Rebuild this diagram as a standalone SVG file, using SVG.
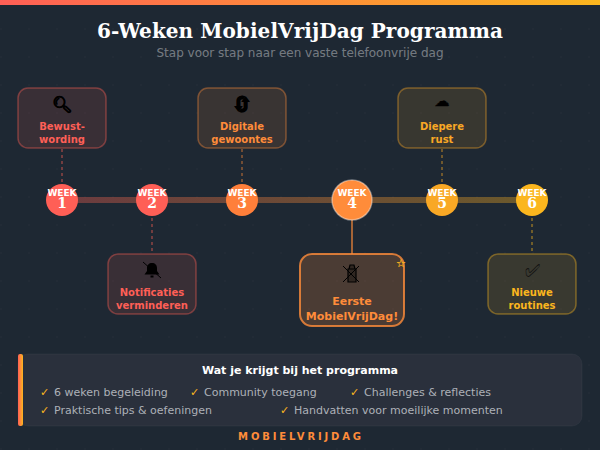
<svg xmlns="http://www.w3.org/2000/svg" width="600" height="450" viewBox="0 0 600 450">
<defs>
<linearGradient id="g" x1="0" y1="0" x2="1" y2="0"><stop offset="0" stop-color="#ff5f56"/><stop offset="0.5" stop-color="#ff8c3a"/><stop offset="1" stop-color="#fbb61e"/></linearGradient>
<linearGradient id="gl" gradientUnits="userSpaceOnUse" x1="61" y1="0" x2="532" y2="0"><stop offset="0" stop-color="#ff5f56"/><stop offset="0.5" stop-color="#ff8c3a"/><stop offset="1" stop-color="#fbb61e"/></linearGradient>
<pattern id="dots" width="28" height="28" patternUnits="userSpaceOnUse"><circle cx="1" cy="1" r="1" fill="#fff" fill-opacity="0.02"/></pattern>
</defs>
<style>
text{font-family:"DejaVu Sans",sans-serif;text-anchor:middle}
.n{fill:#fff;font-size:9px;font-weight:700}
.d{fill:#fff;font-size:14px;font-weight:700;font-family:"DejaVu Serif",serif}
.i{font-size:16px;font-weight:700;fill:#000;stroke:#000;stroke-width:.4}
.l{font-size:10px;font-weight:700}
.f{font-size:11px;fill:#adb1b8;text-anchor:start}
.k{font-size:11px;fill:#fbb61e;text-anchor:start}
.r{fill:#ff5f56}.o{fill:#ff8c3a}.y{fill:#f9a825}.u{fill:#fbb61e}
.card{fill-opacity:.12;stroke-opacity:.4;stroke-width:1.5}
</style>
<rect width="600" height="450" fill="#1e2833"/>
<rect width="600" height="450" fill="url(#dots)"/>
<rect width="600" height="5" fill="url(#g)"/>
<text x="300" y="38" font-size="20" font-weight="700" letter-spacing=".07" style="font-family:'DejaVu Serif',serif" fill="#fff">6-Weken MobielVrijDag Programma</text>
<text x="300" y="57" font-size="12" fill="#fff" fill-opacity="0.4">Stap voor stap naar een vaste telefoonvrije dag</text>
<g id="connectors">
<rect x="61" y="197" width="471" height="6" fill="url(#gl)" fill-opacity="0.35"/>
<g fill="none" stroke-width="1.5" stroke-dasharray="3 3" stroke-opacity="0.5">
<path d="M62 149V182" stroke="#ff5f56"/>
<path d="M152 218V254" stroke="#ff5f56"/>
<path d="M242 149V182" stroke="#ff8c3a"/>
<path d="M442 149V182" stroke="#f9a825"/>
<path d="M532 218V254" stroke="#fbb61e"/>
</g>
<path d="M352 220V254" stroke="#ff8c3a" stroke-width="1.5" stroke-opacity="0.8"/>
</g>
<g id="card1"><rect class="card" x="18" y="88" width="88" height="60" rx="10" fill="#ff5f56" stroke="#ff5f56"/><text class="i" x="62" y="110">🔍︎</text><text class="l r" x="62" y="130">Bewust-</text><text class="l r" x="62" y="143">wording</text></g>
<g id="card2"><rect class="card" x="108" y="254" width="88" height="60" rx="10" fill="#ff5f56" stroke="#ff5f56"/><path d="M152 263c-3 0-5 2-5 5v3l-2.500 3.500h15l-2.500-3.500v-3c0-3-2-5-5-5zM150.500 275.500h3v2h-3z" fill="#000"/><path d="M143 262L161 278" stroke="#000" stroke-width="1"/><text class="l r" x="152" y="296">Notificaties</text><text class="l r" x="152" y="309">verminderen</text></g>
<g id="card3"><rect class="card" x="198" y="88" width="88" height="60" rx="10" fill="#ff8c3a" stroke="#ff8c3a"/><text class="i" x="242" y="111" style="font-size:18px">🔄︎</text><text class="l o" x="242" y="130">Digitale</text><text class="l o" x="242" y="143">gewoontes</text></g>
<g id="card4"><rect x="300" y="254" width="104" height="72" rx="12" fill="#ff8c3a" fill-opacity=".2" stroke="#ff8c3a" stroke-opacity=".8" stroke-width="2"/><path d="M348 269h8v13h-8zM350 265h4l1 4h-6z" fill="#000" fill-opacity=".35" stroke="#000" stroke-width="1.200"/><path d="M343 266L359 282M359 266L343 282" stroke="#000" stroke-width="1"/><text class="l o" x="352" y="305" style="font-size:11px">Eerste</text><text class="l o" x="352" y="320" style="font-size:11px">MobielVrijDag!</text><text x="401" y="267" font-size="11" font-weight="700" fill="#fbb61e" stroke="#fbb61e" stroke-width=".2">☆</text></g>
<g id="card5"><rect class="card" x="398" y="88" width="88" height="60" rx="10" fill="#f9a825" stroke="#f9a825"/><text class="i" x="442" y="106" style="font-size:15px">☁︎</text><text class="l y" x="442" y="130">Diepere</text><text class="l y" x="442" y="143">rust</text></g>
<g id="card6"><rect class="card" x="488" y="254" width="88" height="60" rx="10" fill="#fbb61e" stroke="#fbb61e"/><text x="532" y="277" font-size="18" fill="#111">✅︎</text><text class="l u" x="532" y="296">Nieuwe</text><text class="l u" x="532" y="309">routines</text></g>
<g id="week1"><circle cx="62" cy="200" r="16" fill="#ff5f56"/><text class="n" x="62" y="196">WEEK</text><text class="d" x="62" y="208">1</text></g>
<g id="week2"><circle cx="152" cy="200" r="16" fill="#ff5f56"/><text class="n" x="152" y="196">WEEK</text><text class="d" x="152" y="208">2</text></g>
<g id="week3"><circle cx="242" cy="200" r="16" fill="#ff7f3a"/><text class="n" x="242" y="196">WEEK</text><text class="d" x="242" y="208">3</text></g>
<g id="week4"><circle cx="352" cy="200" r="20" fill="#ff8c3a" stroke="#fff" stroke-opacity=".4" stroke-width="1.5"/><text class="n" x="352" y="196">WEEK</text><text class="d" x="352" y="208">4</text></g>
<g id="week5"><circle cx="442" cy="200" r="16" fill="#f9a825"/><text class="n" x="442" y="196">WEEK</text><text class="d" x="442" y="208">5</text></g>
<g id="week6"><circle cx="532" cy="200" r="16" fill="#fbb61e"/><text class="n" x="532" y="196">WEEK</text><text class="d" x="532" y="208">6</text></g>
<g id="panel">
<rect x="18" y="354" width="564" height="72" rx="10" fill="#2a303c" stroke="#fff" stroke-opacity=".04"/>
<rect x="18" y="354" width="5" height="72" rx="2" fill="url(#g)"/>
<text x="300" y="374" font-size="11" font-weight="700" fill="#fff">Wat je krijgt bij het programma</text>
<text class="k" x="40" y="396">✓</text><text class="f" x="54" y="396">6 weken begeleiding</text>
<text class="k" x="190" y="396">✓</text><text class="f" x="204" y="396">Community toegang</text>
<text class="k" x="350" y="396">✓</text><text class="f" x="364" y="396">Challenges &amp; reflecties</text>
<text class="k" x="40" y="414">✓</text><text class="f" x="54" y="414">Praktische tips &amp; oefeningen</text>
<text class="k" x="280" y="414">✓</text><text class="f" x="294" y="414">Handvatten voor moeilijke momenten</text>
</g>
<text x="301" y="440" font-size="10" font-weight="700" letter-spacing="2.850" fill="#ff8c3a">MOBIELVRIJDAG</text>
</svg>
